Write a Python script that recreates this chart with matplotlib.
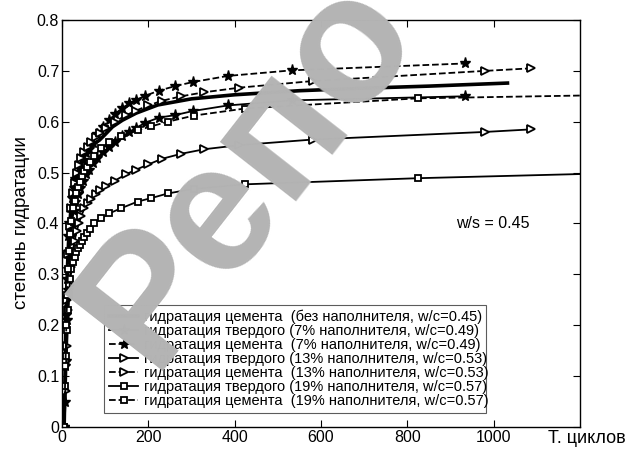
import numpy as np
import matplotlib.pyplot as plt

plt.rcParams['font.family'] = ['Liberation Sans', 'DejaVu Sans']

# гидратация цемента без наполнителя (w/c=0.45)
t_c0 = [5, 7, 9, 11, 13, 15, 18, 21, 25, 30, 36, 43, 52, 62, 75, 87, 100, 117, 140, 172, 222, 300, 400, 550, 700, 850, 1032]
a_c0 = [0, 0.10, 0.20, 0.27, 0.32, 0.36, 0.40, 0.43, 0.455, 0.48, 0.50, 0.517, 0.532, 0.545, 0.557, 0.564, 0.575, 0.590, 0.603, 0.617, 0.633, 0.645, 0.653, 0.661, 0.666, 0.670, 0.676]

# 7% наполнителя (w/c=0.49)
t_7 = [5, 7, 9, 11, 13, 15, 17, 20, 23, 27, 31, 36, 41, 48, 56, 62, 71, 82, 94, 110, 122, 140, 156, 172, 193, 224, 262, 303, 384, 532, 933]
a_s7 = [0, 0.05, 0.13, 0.21, 0.27, 0.31, 0.34, 0.375, 0.40, 0.425, 0.443, 0.458, 0.47, 0.484, 0.497, 0.505, 0.518, 0.529, 0.540, 0.551, 0.560, 0.571, 0.580, 0.588, 0.598, 0.608, 0.613, 0.621, 0.632, 0.642, 0.650]
a_c7 = [0, 0.12, 0.22, 0.29, 0.34, 0.375, 0.40, 0.43, 0.45, 0.47, 0.487, 0.50, 0.51, 0.525, 0.538, 0.547, 0.558, 0.575, 0.59, 0.603, 0.615, 0.627, 0.636, 0.643, 0.651, 0.661, 0.670, 0.678, 0.690, 0.701, 0.7145]

# 13% наполнителя (w/c=0.53)
t_13 = [6, 9, 12, 15, 18, 21, 25, 29, 34, 39, 45, 52, 60, 68, 79, 88, 102, 122, 149, 172, 200, 231, 276, 330, 411, 581, 981, 1087]
a_s13 = [0, 0.07, 0.16, 0.23, 0.28, 0.315, 0.345, 0.365, 0.385, 0.40, 0.415, 0.43, 0.44, 0.448, 0.458, 0.465, 0.474, 0.484, 0.497, 0.506, 0.516, 0.527, 0.537, 0.546, 0.554, 0.565, 0.580, 0.585]
a_c13 = [0, 0.13, 0.25, 0.34, 0.395, 0.43, 0.46, 0.48, 0.50, 0.515, 0.528, 0.54, 0.55, 0.56, 0.570, 0.578, 0.588, 0.600, 0.613, 0.622, 0.632, 0.641, 0.650, 0.658, 0.667, 0.680, 0.700, 0.705]

# 19% наполнителя (w/c=0.57)
t_19 = [5, 8, 10, 12, 14, 16, 19, 22, 26, 29, 33, 37, 41, 46, 52, 58, 64, 75, 91, 110, 137, 175, 207, 245, 305, 424, 824, 1650]
a_s19 = [0, 0.08, 0.14, 0.19, 0.23, 0.26, 0.29, 0.31, 0.325, 0.335, 0.344, 0.352, 0.358, 0.366, 0.374, 0.382, 0.39, 0.40, 0.41, 0.42, 0.430, 0.443, 0.450, 0.459, 0.468, 0.477, 0.489, 0.507]
a_c19 = [0, 0.12, 0.20, 0.26, 0.31, 0.345, 0.38, 0.405, 0.43, 0.445, 0.46, 0.472, 0.482, 0.493, 0.503, 0.512, 0.52, 0.533, 0.548, 0.56, 0.572, 0.583, 0.591, 0.600, 0.612, 0.626, 0.646, 0.658]

labels = ['гидратация цемента  (без наполнителя, w/c=0.45)',
          'гидратация твердого (7% наполнителя, w/c=0.49)',
          'гидратация цемента  (7% наполнителя, w/c=0.49)',
          'гидратация твердого (13% наполнителя, w/c=0.53)',
          'гидратация цемента  (13% наполнителя, w/c=0.53)',
          'гидратация твердого (19% наполнителя, w/c=0.57)',
          'гидратация цемента  (19% наполнителя, w/c=0.57)']

fig = plt.figure(figsize=(6.32, 4.49), dpi=100)
ax = fig.add_axes([0.0981, 0.049, 0.8196, 0.9065])
ax.set_facecolor('none')

# водяной знак
fig.text(0.24, 0.174, 'Репо', fontsize=130, color='#b4b4b4', rotation=52,
         rotation_mode='anchor', ha='left', va='baseline', fontweight='bold', zorder=0)

ax.plot(t_c0, a_c0, 'k-', lw=2.6, label=labels[0])
ax.plot(t_7, a_s7, 'k-', lw=1.3, marker='*', ms=8, label=labels[1])
ax.plot(t_7, a_c7, 'k--', lw=1.3, marker='*', ms=8, label=labels[2])
ax.plot(t_13, a_s13, 'k-', lw=1.3, marker='>', ms=6, mfc='white', mew=1.3, label=labels[3])
ax.plot(t_13, a_c13, 'k--', lw=1.3, marker='>', ms=6, mfc='white', mew=1.3, label=labels[4])
ax.plot(t_19, a_s19, 'k-', lw=1.3, marker='s', ms=5, mfc='white', mew=1.3, label=labels[5])
ax.plot(t_19, a_c19, 'k--', lw=1.3, marker='s', ms=5, mfc='white', mew=1.3, label=labels[6])

ax.set_xlim(0, 1200)
ax.set_ylim(0, 0.8)
ax.set_xticks([0, 200, 400, 600, 800, 1000])
ax.set_yticks(np.arange(0, 0.81, 0.1))
ax.set_yticklabels(['0', '0.1', '0.2', '0.3', '0.4', '0.5', '0.6', '0.7', '0.8'])
ax.tick_params(direction='in', length=5, top=True, right=True, labelsize=11.5, pad=2)
for s in ax.spines.values():
    s.set_linewidth(1.0)

ax.text(998, 0.40, 'w/s = 0.45', fontsize=11.5, ha='center', va='center')
ax.text(0.938, -0.007, 'Т. циклов', transform=ax.transAxes, fontsize=13,
        ha='left', va='top')
fig.text(22 / 632, 1 - 223 / 449, 'степень гидратации', rotation=90,
         fontsize=13.5, ha='center', va='center')

leg = ax.legend(loc='lower left', bbox_to_anchor=(0.081, 0.034, 0.738, 0.273),
                mode='expand', borderaxespad=0, fontsize=10.5, handlelength=2.0,
                handletextpad=0.4, labelspacing=0.0, borderpad=0.35, fancybox=False)
leg.get_frame().set_edgecolor('#333333')
leg.get_frame().set_linewidth(0.8)
leg.get_frame().set_facecolor('none')

fig.savefig('out.png', dpi=100)
